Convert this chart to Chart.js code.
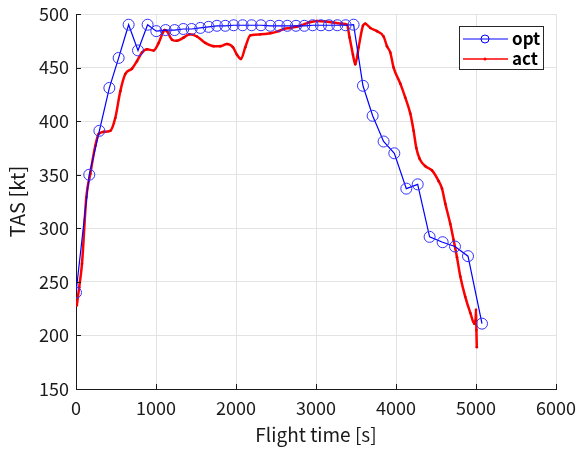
<!DOCTYPE html>
<html>
<head>
<meta charset="utf-8">
<script src="https://cdn.jsdelivr.net/npm/chart.js@4/dist/chart.umd.min.js"></script>
<style>
  html, body { margin: 0; padding: 0; background: #fff; }
</style>
</head>
<body>
<canvas id="tasChart" width="580" height="450"></canvas>
<script>
// optimal profile (blue circles)
const optTime = [0, 166, 292, 417, 533, 658, 775, 895, 1004, 1120, 1233, 1341, 1445, 1554, 1658, 1762, 1866, 1970,
    2083, 2195, 2312, 2429, 2537, 2641, 2750, 2854, 2958, 3062, 3162, 3266, 3370, 3470,
    3587, 3708, 3845, 3979, 4129, 4271, 4420, 4583, 4737, 4900, 5075];
const optTAS = [240, 350, 391, 431, 459, 490, 466, 490, 484, 485, 485, 486, 486, 487, 488, 489, 489, 489.5,
    489.5, 489.5, 489.5, 489, 489, 489, 489, 489, 489.5, 489.5, 489.5, 489.5, 489.5, 490,
    433, 405, 381, 370, 337, 341, 292, 287, 283, 274, 211];

// actual flight (red)
const actTime = [10, 40, 75, 129, 179, 241, 283, 345, 429, 491, 554, 616, 700, 762, 825, 887, 970, 1033, 1087, 1104,
    1137, 1200, 1262, 1345, 1420, 1512, 1616, 1720, 1804, 1887, 1962, 2012, 2062, 2116, 2179, 2304, 2429, 2533,
    2596, 2679, 2804, 2908, 3012, 3116, 3220, 3325, 3387, 3420, 3462, 3491, 3533, 3587, 3616, 3679, 3762, 3845,
    3887, 3929, 3970, 4054, 4116, 4179, 4220, 4254, 4295, 4366, 4450, 4533, 4575, 4616, 4679, 4720, 4762, 4804,
    4866, 4929, 4979, 4995, 5000, 5005, 5010];
const actTAS = [228, 245, 267, 329, 351, 377, 388, 390, 391, 403, 428, 444, 449, 456, 464, 467, 466, 473, 483, 485,
    484, 476, 475, 478, 481, 479, 473, 470, 470, 472, 469, 462, 458, 469, 480, 481, 482, 484,
    486, 487, 489, 492, 493.5, 493, 492, 491, 490, 478, 462, 453, 469, 489, 491, 487, 484, 479,
    470, 464, 450, 435, 422, 407, 391, 375, 365, 358, 354, 344, 337, 323, 304, 289, 273, 255,
    236, 221, 211, 214, 224, 205, 189];

const xTicks = [0, 1000, 2000, 3000, 4000, 5000, 6000];
const yTicks = [150, 200, 250, 300, 350, 400, 450, 500];

const FONT = "'Noto Sans CJK JP', 'Liberation Sans', sans-serif";
const AXIS = '#1a1a1a';

const toPts = (xs, ys) => xs.map((x, i) => ({ x, y: ys[i] }));

// matlab style: ticks pointing into the axes
const innerTicks = {
    id: 'innerTicks',
    afterDatasetsDraw(chart) {
        const { ctx, chartArea, scales } = chart;
        ctx.save();
        ctx.strokeStyle = AXIS;
        ctx.lineWidth = 1;
        ctx.beginPath();
        xTicks.forEach(v => {
            const px = Math.round(scales.x.getPixelForValue(v)) + 0.5;
            ctx.moveTo(px, chartArea.bottom);
            ctx.lineTo(px, chartArea.bottom - 5);
        });
        yTicks.forEach(v => {
            const py = Math.round(scales.y.getPixelForValue(v)) + 0.5;
            ctx.moveTo(chartArea.left, py);
            ctx.lineTo(chartArea.left + 5, py);
        });
        ctx.stroke();
        ctx.restore();
    }
};

const boxLegend = {
    id: 'boxLegend',
    afterDraw(chart) {
        const { ctx, chartArea } = chart;
        const x0 = chartArea.right - 97, y0 = chartArea.top + 12, w = 84, h = 43;
        ctx.save();
        ctx.fillStyle = '#fff';
        ctx.fillRect(x0, y0, w, h);
        ctx.strokeStyle = '#262626';
        ctx.lineWidth = 1;
        ctx.strokeRect(x0 + 0.5, y0 + 0.5, w, h);
        chart.data.datasets.forEach((ds, i) => {
            const cy = y0 + 13 + i * 20;
            ctx.strokeStyle = ds.borderColor;
            ctx.lineWidth = i === 0 ? 1 : 1.5;
            ctx.beginPath();
            ctx.moveTo(x0 + 4, cy);
            ctx.lineTo(x0 + 49, cy);
            ctx.stroke();
            ctx.beginPath();
            ctx.lineWidth = 1;
            if (i === 0) {
                ctx.arc(x0 + 26, cy, 4, 0, Math.PI * 2);
                ctx.stroke();
            } else {
                ctx.fillStyle = ds.borderColor;
                ctx.arc(x0 + 26, cy, 1.5, 0, Math.PI * 2);
                ctx.fill();
            }
            ctx.fillStyle = '#000';
            ctx.font = 'bold 17px ' + FONT;
            ctx.textBaseline = 'middle';
            ctx.fillText(ds.label, x0 + 53, cy);
        });
        ctx.restore();
    }
};

new Chart(document.getElementById('tasChart'), {
    type: 'line',
    data: {
        datasets: [
            {
                label: 'opt',
                data: toPts(optTime, optTAS),
                borderColor: '#0000ff',
                borderWidth: 1.2,
                pointStyle: 'circle',
                pointRadius: 5.5,
                pointBorderWidth: 1,
                pointBorderColor: '#3030ff',
                pointBackgroundColor: 'rgba(0,0,0,0)',
                tension: 0,
                order: 1
            },
            {
                label: 'act',
                data: toPts(actTime, actTAS),
                borderColor: '#ff0000',
                borderWidth: 2.5,
                pointRadius: 1.3,
                pointBorderWidth: 0,
                pointBackgroundColor: '#e00000',
                cubicInterpolationMode: 'monotone',
                order: 2
            }
        ]
    },
    options: {
        responsive: false,
        animation: false,
        layout: { padding: { top: 14, right: 24, left: 0, bottom: 0 } },
        plugins: { legend: { display: false }, tooltip: { enabled: false } },
        scales: {
            x: {
                type: 'linear',
                min: 0,
                max: 6000,
                afterBuildTicks: s => { s.ticks = xTicks.map(v => ({ value: v })); },
                afterFit: s => { s.height = 61; s.paddingLeft = 0; s.paddingRight = 0; },
                ticks: { color: AXIS, font: { family: FONT, size: 18 }, padding: 8, maxRotation: 0, callback: v => String(v) },
                grid: { color: '#e3e3e3', drawTicks: false },
                border: { color: AXIS, width: 1 },
                title: { display: true, text: 'Flight time [s]', color: AXIS, font: { family: FONT, size: 19 }, padding: { top: 0 } }
            },
            y: {
                type: 'linear',
                min: 150,
                max: 500,
                afterBuildTicks: s => { s.ticks = yTicks.map(v => ({ value: v })); },
                afterFit: s => { s.width = 76; s.paddingTop = 0; s.paddingBottom = 0; },
                ticks: { color: AXIS, font: { family: FONT, size: 18 }, padding: 7, callback: v => String(v) },
                grid: { color: '#e3e3e3', drawTicks: false },
                border: { color: AXIS, width: 1 },
                title: { display: true, text: 'TAS [kt]', color: AXIS, font: { family: FONT, size: 20 }, padding: { top: 5, bottom: 0 } }
            }
        }
    },
    plugins: [innerTicks, boxLegend]
});
</script>
</body>
</html>
